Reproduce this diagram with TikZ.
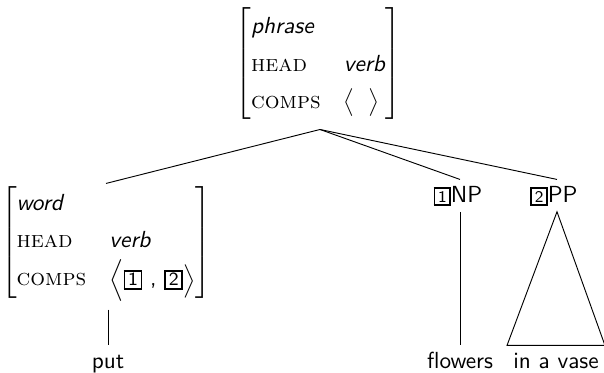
\documentclass[tikz,border=0pt]{standalone}
\usepackage{amsmath, amssymb}
\usetikzlibrary{calc,positioning}
\renewcommand{\familydefault}{\sfdefault}
\newcommand{\feat}[1]{\textrm{\textsc{#1}}}
\newcommand{\tagbox}[1]{\fbox{\makebox[1.4ex]{#1}}}
\setlength{\fboxsep}{0.8pt}
\setlength{\fboxrule}{0.75pt}
\renewcommand{\arraystretch}{1.35}

\begin{document}
\begin{tikzpicture}[x=0.43pt, y=-0.43pt,
  avm/.style={inner sep=0pt},
  cat/.style={inner sep=2.5pt, text height=7pt, text depth=1.5pt, anchor=base}]
\useasboundingbox (0,0) rectangle (604,373);
% feature structures
\node[avm] (top) at (318.5,63.5) {$\left[\begin{tabular}{@{}l@{\hspace{10pt}}l@{}}
  \textit{phrase} & \\
  \feat{head} & \textit{verb} \\
  \feat{comps} & $\big\langle\hspace{6pt}\big\rangle$
  \end{tabular}\right]$};
\node[avm] (word) at (106,242.5) {$\left[\begin{tabular}{@{}l@{\hspace{10pt}}l@{}}
  \textit{word} & \\
  \feat{head} & \textit{verb} \\
  \feat{comps} & $\Big\langle$\footnotesize\tagbox{1}\normalsize\ , \footnotesize\tagbox{2}$\Big\rangle$
  \end{tabular}\right]$};
% categories and words
\node[cat] (np) at (458,202) {{\scriptsize\tagbox{1}}NP};
\node[cat] (pp) at (554,202) {{\scriptsize\tagbox{2}}PP};
\node[cat] (put) at (108,368) {put};
\node[cat] (flowers) at (460,368) {flowers};
\node[cat] (vase) at (556,368) {in a vase};
\coordinate (apex) at ($(top.south)+(1.5,9)$);
% branches
\draw (apex) -- (word.north);
\draw (apex) -- ($(np.north)+(2,0)$);
\draw (apex) -- ($(pp.north)+(3,0)$);
\draw ($(word.south)+(2,8)$) -- (put.north);
\draw ($(np.south)+(2,0)$) -- (flowers.north);
\draw ($(pp.south)+(3,0)$) -- (vase.north east) -- (vase.north west) -- cycle;
\end{tikzpicture}
\end{document}
